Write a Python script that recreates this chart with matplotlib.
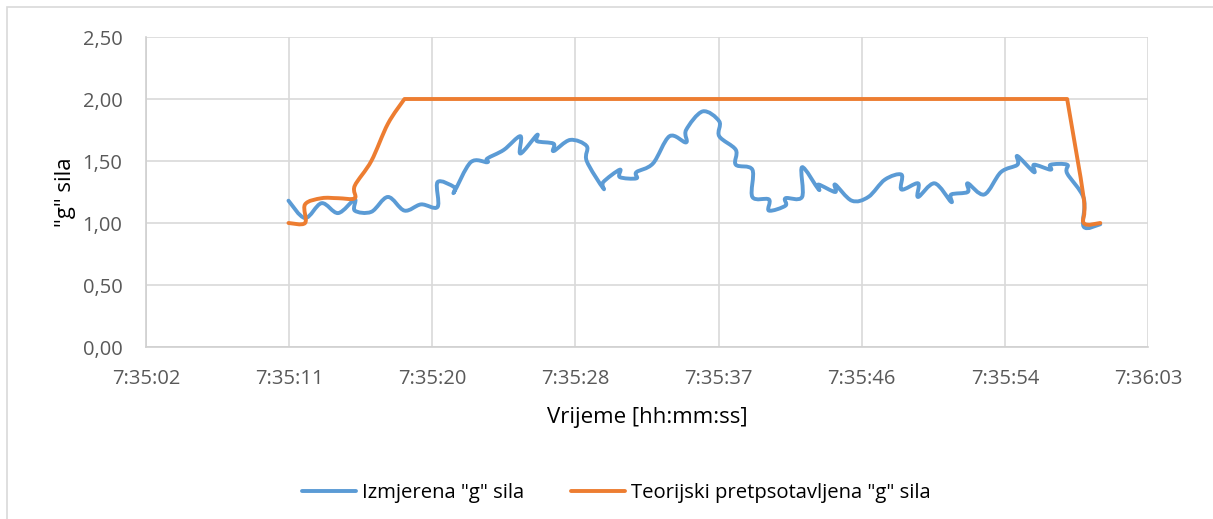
import datetime as dt
import numpy as np
import matplotlib
matplotlib.use("Agg")
import matplotlib.pyplot as plt
import matplotlib.dates as mdates
from matplotlib.path import Path
from matplotlib.patches import PathPatch, Rectangle
from matplotlib.lines import Line2D
from matplotlib.ticker import FixedLocator, FuncFormatter, MultipleLocator

# seconds after 7:35:00 (some seconds hold two samples)
blue_t = [11, 12, 13, 14, 15, 15, 16, 17, 18, 19, 20, 20, 21, 21, 22, 23, 23, 24,
          25, 25, 26, 26, 27, 27, 28, 29, 29, 30, 30, 31, 31, 32, 32, 33, 34, 35,
          35, 36, 37, 37, 38, 38, 39, 39, 40, 40, 41, 41, 42, 42, 43, 43, 44, 44,
          45, 46, 47, 48, 48, 49, 49, 50, 51, 51, 52, 52, 53, 54, 55, 55, 56, 56,
          57, 57, 58, 58, 59, 59, 60]
blue_g = [1.18, 1.04, 1.16, 1.08, 1.19, 1.10, 1.09, 1.21, 1.10, 1.15, 1.13, 1.33,
          1.29, 1.25, 1.49, 1.49, 1.52, 1.59, 1.70, 1.56, 1.71, 1.66, 1.64, 1.58,
          1.67, 1.62, 1.50, 1.28, 1.33, 1.43, 1.37, 1.36, 1.41, 1.48, 1.70, 1.65,
          1.75, 1.90, 1.82, 1.70, 1.59, 1.47, 1.43, 1.21, 1.19, 1.10, 1.14, 1.20,
          1.21, 1.45, 1.27, 1.31, 1.25, 1.31, 1.18, 1.21, 1.35, 1.39, 1.27, 1.32,
          1.21, 1.32, 1.17, 1.23, 1.25, 1.32, 1.23, 1.41, 1.47, 1.54, 1.41, 1.47,
          1.43, 1.47, 1.47, 1.40, 1.20, 0.97, 0.99]

orange_t = [11, 12, 12, 13, 14, 15, 15, 16, 17, 18, 18, 19, 20, 21, 22, 23, 24,
            25, 26, 27, 28, 29, 30, 31, 32, 33, 34, 35, 36, 37, 38, 39, 40, 41,
            42, 43, 44, 45, 46, 47, 48, 49, 50, 51, 52, 53, 54, 55, 56, 57, 58,
            58, 59, 59, 60]
orange_g = [1.00, 1.00, 1.15, 1.20, 1.20, 1.20, 1.30, 1.50, 1.80, 2.00, 2.00,
            2.00, 2.00, 2.00, 2.00, 2.00, 2.00, 2.00, 2.00, 2.00, 2.00, 2.00,
            2.00, 2.00, 2.00, 2.00, 2.00, 2.00, 2.00, 2.00, 2.00, 2.00, 2.00,
            2.00, 2.00, 2.00, 2.00, 2.00, 2.00, 2.00, 2.00, 2.00, 2.00, 2.00,
            2.00, 2.00, 2.00, 2.00, 2.00, 2.00, 2.00, 2.00, 1.20, 1.00, 1.00]

labels = ['Izmjerena "g" sila', 'Teorijski pretpsotavljena "g" sila']
colors = ["#5B9BD5", "#ED7D31"]

base = dt.datetime(2020, 1, 1, 7, 35, 0)


def to_num(secs):
    return mdates.date2num([base + dt.timedelta(seconds=s) for s in secs])


def smooth_path(x, y):
    # Excel-style smoothed line (Catmull-Rom as cubic Bezier)
    pts = np.column_stack([x, y])
    n = len(pts)
    verts = [pts[0]]
    codes = [Path.MOVETO]
    for i in range(n - 1):
        p0 = pts[max(i - 1, 0)]
        p1 = pts[i]
        p2 = pts[i + 1]
        p3 = pts[min(i + 2, n - 1)]
        if np.array_equal(p1, p2):
            continue  # repeated sample, nothing to draw
        verts += [p1 + (p2 - p0) / 6, p2 - (p3 - p1) / 6, p2]
        codes += [Path.CURVE4] * 3
    return Path(verts, codes)


plt.rcParams["font.family"] = ["Open Sans", "DejaVu Sans"]

fig = plt.figure(figsize=(12.13, 5.19), dpi=100)
fig.patches.append(Rectangle((7 / 1213, -0.1), 1.1, 1.1 - 7 / 519,
                             transform=fig.transFigure, fill=False,
                             edgecolor="#d9d9d9", linewidth=1.2))
ax = fig.add_axes([146 / 1213, (519 - 347) / 519, 1002 / 1213, 310 / 519])

for t, g, c in zip([blue_t, orange_t], [blue_g, orange_g], colors):
    patch = PathPatch(smooth_path(to_num(t), g), fill=False, edgecolor=c,
                      linewidth=2.8, capstyle="round", joinstyle="round", zorder=3)
    ax.add_patch(patch)

step = 8.64  # 0.0001 day
x0 = 2.4
ticks = to_num([x0 + k * step for k in range(8)])
ax.set_xlim(ticks[0], ticks[-1])
ax.set_ylim(0, 2.5)
ax.xaxis.set_major_locator(FixedLocator(ticks))
ax.yaxis.set_major_locator(MultipleLocator(0.5))


def fmt_time(v, pos):
    d = mdates.num2date(v) + dt.timedelta(seconds=0.5)
    return f"{d.hour}:{d.minute:02d}:{d.second:02d}"


ax.xaxis.set_major_formatter(FuncFormatter(fmt_time))
ax.yaxis.set_major_formatter(FuncFormatter(lambda v, p: f"{v:.2f}".replace(".", ",")))

ax.grid(True, color="#d9d9d9", linewidth=1.2)
ax.set_axisbelow(True)
for s in ["top", "right"]:
    ax.spines[s].set_visible(False)
for s in ["left", "bottom"]:
    ax.spines[s].set_color("#d0d0d0")
    ax.spines[s].set_linewidth(1.2)
ax.tick_params(length=0, labelsize=14.5, labelcolor="#595959")
ax.tick_params(axis="x", pad=16)
ax.tick_params(axis="y", pad=17)

ax.set_xlabel("Vrijeme [hh:mm:ss]", fontsize=16, color="black")
ax.set_ylabel('"g" sila', fontsize=16, color="black")
ax.xaxis.set_label_coords(0.5, -0.194)
ax.yaxis.set_label_coords(-0.070, 0.5)

handles = [Line2D([0], [0], color=c, linewidth=2.8, solid_capstyle="round") for c in colors]
fig.legend(handles, labels, loc="center", bbox_to_anchor=(616 / 1213, 1 - 493 / 519),
           ncol=2, frameon=False, fontsize=14.6, handlelength=2.66, columnspacing=2.3,
           handletextpad=0.3)

fig.savefig("out.png", dpi=100)
